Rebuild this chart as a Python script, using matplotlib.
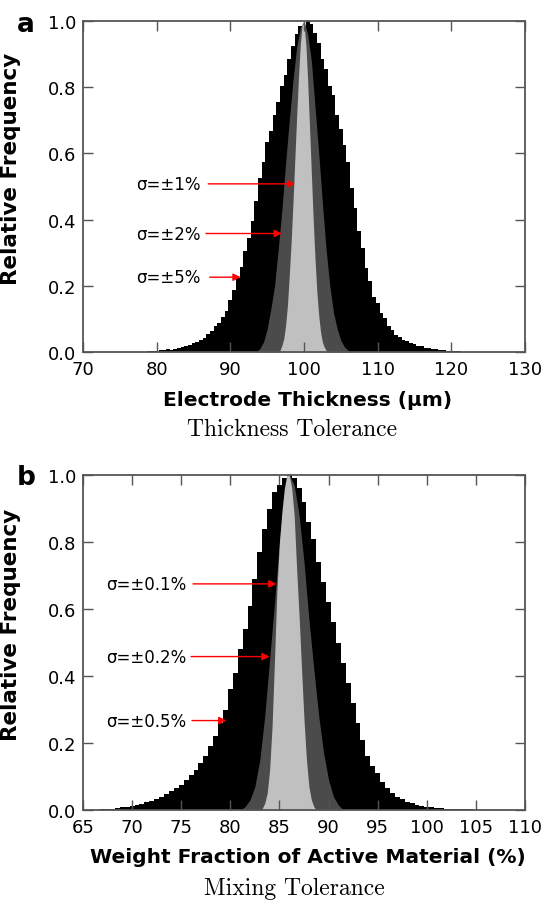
import numpy as np
import matplotlib.pyplot as plt

# ---- panel a: electrode thickness (um) ----
# first bin centre, bin step, relative frequency per bin
thick_black_start, thick_black_step = 78.5, 0.5
thick_black = [0.0, 0.002, 0.003, 0.004, 0.005, 0.006, 0.008, 0.007, 0.009,
               0.012, 0.014, 0.019, 0.021, 0.026, 0.029, 0.037, 0.043, 0.053,
               0.064, 0.079, 0.088, 0.107, 0.124, 0.158, 0.186, 0.224, 0.257,
               0.304, 0.345, 0.395, 0.455, 0.525, 0.575, 0.635, 0.668, 0.715,
               0.755, 0.805, 0.838, 0.885, 0.925, 0.962, 0.985, 0.97, 1.0,
               0.99, 0.965, 0.935, 0.885, 0.855, 0.805, 0.775, 0.715, 0.675,
               0.625, 0.575, 0.495, 0.435, 0.365, 0.315, 0.255, 0.215, 0.165,
               0.148, 0.118, 0.102, 0.078, 0.066, 0.05, 0.046, 0.036, 0.033,
               0.026, 0.024, 0.018, 0.017, 0.012, 0.011, 0.009, 0.008, 0.006,
               0.006, 0.004, 0.004, 0.003, 0.002, 0.001, 0.0]
thick_dark_start, thick_dark_step = 93.5, 0.5
thick_dark = [0.0, 0.01, 0.03, 0.07, 0.13, 0.2, 0.31, 0.43, 0.57, 0.7, 0.82,
              0.92, 0.98, 1.0, 0.96, 0.88, 0.74, 0.6, 0.45, 0.31, 0.2, 0.12,
              0.07, 0.035, 0.015, 0.005, 0.0]
thick_light_start, thick_light_step = 96.5, 0.25
thick_light = [0.0, 0.005, 0.02, 0.04, 0.08, 0.14, 0.23, 0.33, 0.45, 0.58,
               0.71, 0.83, 0.93, 0.99, 0.99, 0.93, 0.82, 0.68, 0.54, 0.4,
               0.28, 0.18, 0.11, 0.06, 0.03, 0.015, 0.005, 0.0]

# ---- panel b: weight fraction of active material (%) ----
mix_black_start, mix_black_step = 66.5, 0.5
mix_black = [0.0, 0.002, 0.003, 0.004, 0.005, 0.008, 0.01, 0.012, 0.015,
             0.018, 0.023, 0.027, 0.033, 0.04, 0.048, 0.057, 0.067, 0.075,
             0.09, 0.105, 0.12, 0.14, 0.16, 0.19, 0.22, 0.26, 0.3, 0.36, 0.41,
             0.48, 0.54, 0.61, 0.69, 0.77, 0.84, 0.9, 0.95, 0.97, 0.99, 1.0,
             0.99, 0.96, 0.92, 0.86, 0.81, 0.74, 0.68, 0.62, 0.56, 0.5, 0.44,
             0.38, 0.32, 0.26, 0.21, 0.16, 0.13, 0.11, 0.085, 0.065, 0.052,
             0.04, 0.033, 0.025, 0.02, 0.016, 0.013, 0.01, 0.008, 0.007,
             0.006, 0.004, 0.003, 0.003, 0.002, 0.002, 0.002, 0.001, 0.001,
             0.0]
mix_dark_start, mix_dark_step = 81.0, 0.5
mix_dark = [0.0, 0.01, 0.03, 0.07, 0.15, 0.28, 0.45, 0.62, 0.8, 0.93, 1.0,
            0.97, 0.88, 0.74, 0.57, 0.42, 0.28, 0.17, 0.09, 0.04, 0.015, 0.0]
mix_light_start, mix_light_step = 83.0, 0.25
mix_light = [0.0, 0.005, 0.02, 0.05, 0.12, 0.25, 0.45, 0.66, 0.8, 0.89,
             0.96, 1.0, 1.0, 0.96, 0.88, 0.72, 0.58, 0.42, 0.27, 0.15, 0.07,
             0.03, 0.01, 0.0]

# annotations: label, text y, arrow start x, arrow tip x
thick_notes = [('σ=±1%', 0.508, 87.0, 98.8),
               ('σ=±2%', 0.358, 86.7, 97.0),
               ('σ=±5%', 0.226, 87.2, 91.4)]
mix_notes = [('σ=±0.1%', 0.675, 76.2, 84.7),
             ('σ=±0.2%', 0.458, 76.0, 84.0),
             ('σ=±0.5%', 0.267, 76.1, 79.6)]


def centres(start, step, vals):
    return start + step * np.arange(len(vals))


spine_col = '#555555'
fig = plt.figure(figsize=(5.44, 9.03), dpi=100)
ax_a = fig.add_axes([83/544, 1-353/903, 442/544, 331/903])
ax_b = fig.add_axes([83/544, 1-811/903, 442/544, 335/903])


def draw(ax, black, dark, light, notes, xlim, xticks, text_x):
    bx = centres(*black)
    ax.bar(bx, black[2], width=black[1], color='black', linewidth=0)
    ax.fill_between(centres(*dark), dark[2], color='#4b4b4b', linewidth=0)
    ax.fill_between(centres(*light), light[2], color='#c0c0c0', linewidth=0)
    ax.set_xlim(*xlim)
    ax.set_ylim(0, 1)
    ax.set_xticks(xticks)
    ax.set_yticks(np.arange(0, 1.01, 0.2))
    ax.set_yticklabels(['%.1f' % v for v in np.arange(0, 1.01, 0.2)])
    ax.tick_params(direction='in', length=7, width=1, color=spine_col,
                   top=True, right=True, labelsize=13)
    ax.tick_params(axis='x', pad=6)
    ax.tick_params(axis='y', pad=5)
    for s in ax.spines.values():
        s.set_color(spine_col)
        s.set_linewidth(1.3)
    for label, y, x0, x1 in notes:
        ax.annotate('', xy=(x1, y), xytext=(x0, y),
                    arrowprops=dict(arrowstyle='-|>', color='red', lw=1,
                                    mutation_scale=11, shrinkA=0, shrinkB=0))
        ax.text(text_x, y, label, ha='right', va='center', fontsize=12)
    ax.set_ylabel('Relative Frequency', fontsize=15.5, fontweight='bold')
    ax.yaxis.set_label_coords(-0.14, 0.555)


draw(ax_a,
     (thick_black_start, thick_black_step, thick_black),
     (thick_dark_start, thick_dark_step, thick_dark),
     (thick_light_start, thick_light_step, thick_light),
     thick_notes, (70, 130), np.arange(70, 131, 10), 86.0)
ax_a.set_xlabel('Electrode Thickness (μm)', fontsize=14.5, fontweight='bold',
                va='center')
ax_a.xaxis.set_label_coords(0.507, -0.142)
ax_a.text(0.472, -0.233, 'Thickness Tolerance', transform=ax_a.transAxes,
          ha='center', va='center', fontsize=17, family='cmr10')

draw(ax_b,
     (mix_black_start, mix_black_step, mix_black),
     (mix_dark_start, mix_dark_step, mix_dark),
     (mix_light_start, mix_light_step, mix_light),
     mix_notes, (65, 110), np.arange(65, 111, 5), 75.5)
ax_b.set_xlabel('Weight Fraction of Active Material (%)', fontsize=14.5,
                fontweight='bold', va='center')
ax_b.xaxis.set_label_coords(0.508, -0.140)
ax_b.text(0.477, -0.266, 'Mixing Tolerance', transform=ax_b.transAxes,
          ha='center', va='bottom', fontsize=17, family='cmr10')

fig.text(17/544, 1-32/903, 'a', fontsize=19, fontweight='bold')
fig.text(17/544, 1-485/903, 'b', fontsize=19, fontweight='bold')

fig.savefig('out.png', dpi=100)
